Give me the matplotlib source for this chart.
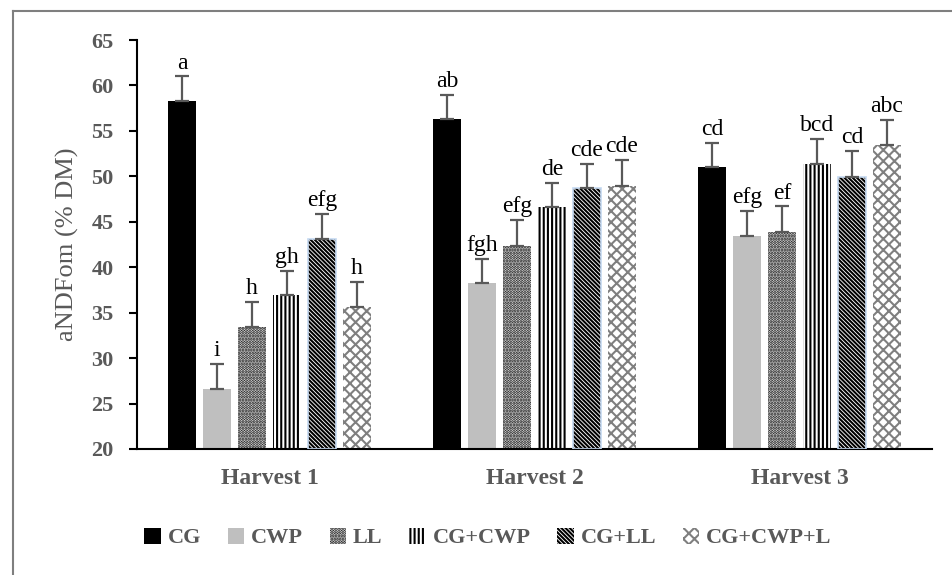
import matplotlib
matplotlib.use("Agg")
import matplotlib.pyplot as plt
import numpy as np
from matplotlib.lines import Line2D
from matplotlib.patches import Patch

plt.rcParams['font.family'] = ['Liberation Serif', 'DejaVu Serif']
plt.rcParams['hatch.linewidth'] = 1.5

harvests = ["Harvest 1", "Harvest 2", "Harvest 3"]
treatments = ["CG", "CWP", "LL", "CG+CWP", "CG+LL", "CG+CWP+L"]

cg = [58.3, 56.3, 51.0]
cwp = [26.6, 38.3, 43.4]
ll = [33.4, 42.3, 43.9]
cg_cwp = [36.9, 46.6, 51.35]
cg_ll = [43.1, 48.7, 49.9]
cg_cwp_l = [35.6, 48.9, 53.5]

err_cg = [2.7, 2.7, 2.7]
err_cwp = [2.75, 2.6, 2.8]
err_ll = [2.8, 2.9, 2.8]
err_cg_cwp = [2.7, 2.7, 2.75]
err_cg_ll = [2.75, 2.65, 2.9]
err_cg_cwp_l = [2.8, 2.9, 2.7]

lab_cg = ["a", "ab", "cd"]
lab_cwp = ["i", "fgh", "efg"]
lab_ll = ["h", "efg", "ef"]
lab_cg_cwp = ["gh", "de", "bcd"]
lab_cg_ll = ["efg", "cde", "cd"]
lab_cg_cwp_l = ["h", "cde", "abc"]

yticks = [20, 25, 30, 35, 40, 45, 50, 55, 60, 65]

series = [cg, cwp, ll, cg_cwp, cg_ll, cg_cwp_l]
errs = [err_cg, err_cwp, err_ll, err_cg_cwp, err_cg_ll, err_cg_cwp_l]
labels = [lab_cg, lab_cwp, lab_ll, lab_cg_cwp, lab_cg_ll, lab_cg_cwp_l]

styles = [
    dict(facecolor="black", edgecolor="black", hatch=None),
    dict(facecolor="#bfbfbf", edgecolor="#bfbfbf", hatch=None),
    dict(facecolor="white", edgecolor="black", hatch="......"),
    dict(facecolor="white", edgecolor="black", hatch="||||"),
    dict(facecolor="white", edgecolor="black", hatch="\\\\\\\\\\\\\\\\"),
    dict(facecolor="white", edgecolor="#7f7f7f", hatch="xxx"),
]

fig = plt.figure(figsize=(9.53, 5.75), dpi=100)
ax = fig.add_axes([137/953, 1-449/575, (932-137)/953, (449-40)/575])

x = np.arange(len(harvests))
step = 0.132
width = 0.106
gray = "#595959"

for i, (vals, e, labs, st) in enumerate(zip(series, errs, labels, styles)):
    pos = x + (i - 2.5) * step
    ax.bar(pos, np.array(vals) - 20, bottom=20, width=width, zorder=2,
           linewidth=0, **st)
    if i == 4:
        ax.bar(pos, np.array(vals) - 20, bottom=20, width=width, facecolor="none",
               edgecolor="#c5d9f1", linewidth=1.2, zorder=3)
    ax.errorbar(pos, vals, yerr=[np.zeros(len(vals)), e], fmt="none",
                ecolor=gray, elinewidth=1.6, capsize=5, capthick=1.6, zorder=4)
    for p, v, ee, t in zip(pos, vals, e, labs):
        ax.annotate(t, (p, v + ee), xytext=(0, 2), textcoords="offset points",
                    ha="center", va="bottom", fontsize=17, color="black")

ax.set_ylim(20, 65)
ax.set_xlim(-0.5, 2.5)
ax.set_yticks(yticks)
ax.set_xticks(x)
ax.set_xticklabels(harvests, fontsize=17, fontweight="bold", color=gray)
ax.tick_params(axis="x", length=0, pad=14)
ax.tick_params(axis="y", length=6, width=1.5, direction="out", pad=11,
               labelsize=16, labelcolor=gray)
for t in ax.get_yticklabels():
    t.set_fontweight("bold")
ax.spines["top"].set_visible(False)
ax.spines["right"].set_visible(False)
ax.spines["left"].set_linewidth(1.5)
ax.spines["bottom"].set_linewidth(1.5)
ax.set_ylabel("aNDFom (% DM)", fontsize=19, color=gray, labelpad=9)

handles = []
for st in styles:
    handles.append(Patch(facecolor=st["facecolor"], edgecolor=st["edgecolor"],
                         hatch=st["hatch"], linewidth=0))
leg = fig.legend(handles, treatments, loc="center", bbox_to_anchor=(0.512, 1-538/575),
                 ncol=6, frameon=False, handlelength=0.75, handleheight=0.75,
                 handletextpad=0.3, columnspacing=1.2,
                 prop=dict(family="Liberation Serif", weight="bold", size=16))
for t in leg.get_texts():
    t.set_color(gray)

fig.add_artist(Line2D([13/953, 1.0], [1-11/575, 1-11/575], color="#7f7f7f", lw=1.5))
fig.add_artist(Line2D([13/953, 13/953], [0, 1-11/575], color="#7f7f7f", lw=1.5))

fig.savefig("out.png", dpi=100)
